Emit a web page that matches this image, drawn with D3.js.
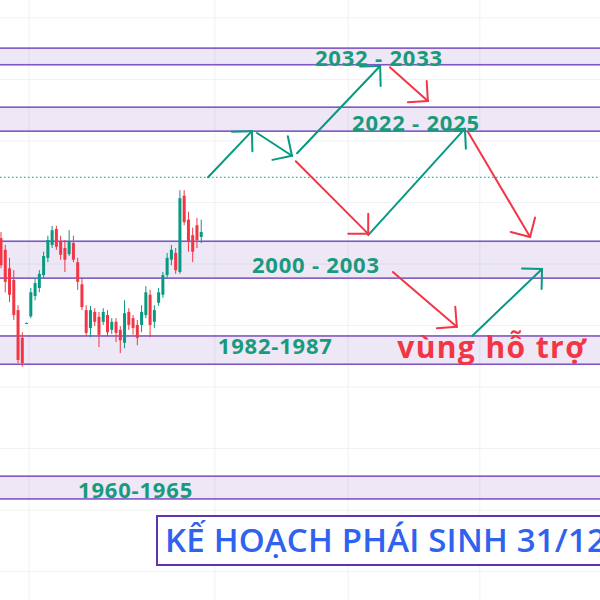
<!DOCTYPE html>
<html>
<head>
<meta charset="utf-8">
<script src="https://cdn.jsdelivr.net/npm/d3@7"></script>
<style>
  body { margin: 0; background: #fff; }
  svg { display: block; }
</style>
</head>
<body>
<div id="chart"></div>
<script>
var width = 600
var height = 600

// candles (price, VN30F points)
var opens  = [2004.2,2002.3,1999.3,1997.4,1992.5,1988.0,1990.4,1991.5,1994.8,1996.1,1998.2,2001.0,2003.1,2005.7,2003.6,2002.6,2001.6,2003.4,2000.3,1996.7,1992.5,1989.6,1992.2,1991.4,1990.6,1991.7,1989.3,1990.6,1989.3,1987.2,1992.2,1991.2,1990.1,1990.1,1991.7,1995.0,1990.6,1993.7,1995.0,1998.2,2000.7,2001.8,1998.7,2011.1,2007.2,2004.7,2006.3,2004.4]
var highs  = [2005.2,2003.1,2001.0,1999.0,1993.3,1988.9,1990.5,1996.1,1997.7,1999.0,2002.0,2004.6,2006.2,2006.2,2004.6,2003.9,2005.5,2004.6,2001.0,1997.7,1993.3,1993.2,1992.8,1992.2,1992.8,1992.5,1991.2,1991.2,1989.9,1994.1,1992.8,1991.7,1990.9,1993.3,1996.4,1995.8,1993.3,1996.1,1998.7,2001.8,2003.1,2002.6,2012.0,2012.0,2008.5,2005.9,2007.5,2007.2]
var lows   = [1999.3,1995.4,1993.8,1990.9,1983.9,1983.3,1990.3,1991.2,1994.1,1995.4,1997.7,2000.3,2002.6,2002.3,2000.7,1998.7,2001.3,2000.3,1995.8,1992.5,1988.3,1988.1,1989.9,1986.5,1990.1,1988.3,1988.6,1987.3,1985.5,1986.3,1989.3,1988.5,1986.8,1988.9,1991.2,1988.1,1989.6,1993.2,1994.5,1997.7,1999.8,1998.4,1998.4,2006.3,2002.0,2000.3,2002.6,2003.4]
var closes = [1999.8,1997.1,1995.0,1991.7,1984.4,1983.9,1990.4,1995.4,1996.9,1998.4,2001.3,2003.9,2005.5,2002.8,2001.5,2000.7,2003.6,2000.7,1997.1,1993.0,1988.8,1992.5,1990.6,1988.5,1992.2,1988.9,1990.6,1988.8,1987.6,1992.0,1990.1,1989.6,1988.0,1992.2,1995.4,1990.1,1992.5,1995.4,1998.2,2001.0,2002.3,1999.0,2010.7,2006.8,2003.6,2002.0,2003.9,2005.2]

// zones
var bandLow  = [2032.4, 2021.6, 1997.7, 1983.7, 1961.8]
var bandHigh = [2035.1, 2025.5, 2003.7, 1988.3, 1965.5]
var zoneLabels = ["2032 - 2033", "2022 - 2025", "2000 - 2003", "1982-1987", "1960-1965"]
var zoneLabelBar = [73.7, 82.4, 58.9, 50.9, 18.1]
var zoneLabelPrice = [2032.2, 2021.6, 1998.5, 1985.4, 1961.9]

var lastPrice = 2014.1
var gridPrices = [1950, 1960, 1970, 1980, 1990, 2000, 2010, 2020, 2030, 2040]
var gridBars = [6.6, 50.2, 81.5, 112.4]

// arrows: [bar0, price0, bar1, price1]
var greenArrows = [
  [48.6, 2014.1, 58.9, 2021.6],
  [60.1, 2021.3, 68.3, 2017.6],
  [69.5, 2018.0, 89.0, 2032.2],
  [86.2, 2004.7, 108.9, 2022.0],
  [110.6, 1988.3, 127.0, 1999.2]
]
var redArrows = [
  [91.3, 2032.0, 100.2, 2026.5],
  [69.2, 2016.7, 86.2, 2004.9],
  [109.6, 2021.5, 124.2, 2004.4],
  [92.0, 1998.7, 107.0, 1989.8]
]

var supportText = "vùng hỗ trợ"
var supportBar = 93.0
var supportPrice = 1984.7
var titleText = "KẾ HOẠCH PHÁI SINH 31/12"

var upColor = "#089981"
var downColor = "#f23645"

var x = d3.scaleLinear().domain([0, 140]).range([1, 1 + 140 * 4.26])
var y = d3.scaleLinear().domain([1950, 2040]).range([571.5, 18])

var svg = d3.select("#chart").append("svg")
  .attr("width", width).attr("height", height)

// grid
svg.append("g").selectAll("line")
  .data(gridPrices).enter().append("line")
  .attr("x1", 0).attr("x2", width)
  .attr("y1", function(d) { return y(d) }).attr("y2", function(d) { return y(d) })
  .attr("stroke", "#f0f1f6").attr("stroke-width", 1)
svg.append("g").selectAll("line")
  .data(gridBars).enter().append("line")
  .attr("y1", 0).attr("y2", height)
  .attr("x1", function(d) { return x(d) }).attr("x2", function(d) { return x(d) })
  .attr("stroke", "#f0f1f6").attr("stroke-width", 1)

// zones
svg.append("g").selectAll("rect")
  .data(bandLow).enter().append("rect")
  .attr("x", -2).attr("width", width + 4)
  .attr("y", function(d, i) { return y(bandHigh[i]) })
  .attr("height", function(d, i) { return y(d) - y(bandHigh[i]) })
  .attr("fill", "rgba(126,87,194,0.14)")
  .attr("stroke", "#7e57c2").attr("stroke-width", 1.6)

// last price line
svg.append("line")
  .attr("x1", 0).attr("x2", width)
  .attr("y1", y(lastPrice)).attr("y2", y(lastPrice))
  .attr("stroke", upColor).attr("stroke-width", 1)
  .attr("stroke-dasharray", "1.5,2.5")

// candles
var candles = svg.append("g").selectAll("g")
  .data(opens).enter().append("g")
candles.append("line")
  .attr("x1", function(d, i) { return x(i) }).attr("x2", function(d, i) { return x(i) })
  .attr("y1", function(d, i) { return y(highs[i]) }).attr("y2", function(d, i) { return y(lows[i]) })
  .attr("stroke", function(d, i) { return closes[i] >= d ? upColor : downColor })
  .attr("stroke-width", 1)
candles.append("rect")
  .attr("x", function(d, i) { return x(i) - 1.5 }).attr("width", 3)
  .attr("y", function(d, i) { return y(Math.max(d, closes[i])) })
  .attr("height", function(d, i) { return Math.max(1, Math.abs(y(d) - y(closes[i]))) })
  .attr("fill", function(d, i) { return closes[i] >= d ? upColor : downColor })

// arrows
function drawArrow(a, color) {
  var x0 = x(a[0]), y0 = y(a[1]), x1 = x(a[2]), y1 = y(a[3])
  var ang = Math.atan2(y0 - y1, x0 - x1)
  var len = 20
  var g = svg.append("g")
    .attr("stroke", color).attr("stroke-width", 2)
    .attr("fill", "none").attr("stroke-linecap", "round")
  g.append("line").attr("x1", x0).attr("y1", y0).attr("x2", x1).attr("y2", y1)
  ;[-Math.PI / 4, Math.PI / 4].forEach(function(off) {
    g.append("line")
      .attr("x1", x1).attr("y1", y1)
      .attr("x2", x1 + len * Math.cos(ang + off))
      .attr("y2", y1 + len * Math.sin(ang + off))
  })
}
greenArrows.forEach(function(a) { drawArrow(a, upColor) })
redArrows.forEach(function(a) { drawArrow(a, downColor) })

// zone labels
svg.append("g").selectAll("text")
  .data(zoneLabels).enter().append("text")
  .attr("x", function(d, i) { return x(zoneLabelBar[i]) })
  .attr("y", function(d, i) { return y(zoneLabelPrice[i]) })
  .attr("fill", "#1a9a7d")
  .style("font-family", "'Open Sans', sans-serif")
  .style("font-weight", "700")
  .style("font-size", "22px")
  .style("letter-spacing", "0.8px")
  .text(function(d) { return d })

svg.append("text")
  .attr("x", x(supportBar)).attr("y", y(supportPrice))
  .attr("fill", downColor)
  .style("font-family", "'Open Sans', sans-serif")
  .style("font-weight", "700")
  .style("font-size", "30px")
  .style("letter-spacing", "1.4px")
  .text(supportText)

// title box (runs past the right edge, as in the source)
svg.append("rect")
  .attr("x", 157).attr("y", 516).attr("width", 470).attr("height", 49)
  .attr("fill", "#fff").attr("stroke", "#5e35b1").attr("stroke-width", 2)
svg.append("text")
  .attr("x", 165).attr("y", 552)
  .attr("fill", "#2f62ee")
  .style("font-family", "'Open Sans', sans-serif")
  .style("font-weight", "600")
  .style("font-size", "33px")
  .style("letter-spacing", "0.2px")
  .text(titleText)
</script>
</body>
</html>
